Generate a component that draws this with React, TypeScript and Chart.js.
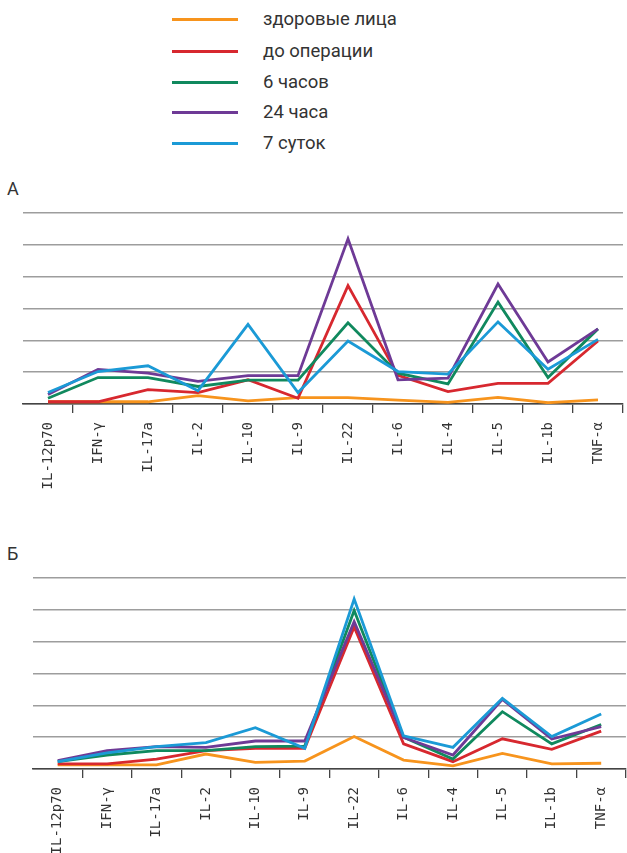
import React, { useEffect, useRef } from "react";
import { Chart, registerables } from "chart.js";

Chart.register(...registerables);

// Cytokines along the x axis
const CATEGORIES = ["IL-12p70", "IFN-γ", "IL-17a", "IL-2", "IL-10", "IL-9", "IL-22", "IL-6", "IL-4", "IL-5", "IL-1b", "TNF-α"];

// Groups / time points
const SERIES_NAMES = ["здоровые лица", "до операции", "6 часов", "24 часа", "7 суток"];
const SERIES_COLORS = ["#F7941D", "#D7282F", "#10895E", "#6E3A96", "#1B9AD6"];

// Panel А
const A_HEALTHY = [0.07, 0.07, 0.07, 0.26, 0.1, 0.2, 0.2, 0.12, 0.05, 0.21, 0.04, 0.13];
const A_PREOP = [0.07, 0.07, 0.45, 0.36, 0.76, 0.18, 3.72, 0.9, 0.39, 0.65, 0.65, 1.98];
const A_6H = [0.18, 0.83, 0.83, 0.55, 0.75, 0.75, 2.55, 0.97, 0.63, 3.2, 0.83, 2.36];
const A_24H = [0.3, 1.09, 0.97, 0.71, 0.89, 0.89, 5.19, 0.76, 0.81, 3.77, 1.32, 2.36];
const A_7D = [0.36, 1.02, 1.2, 0.42, 2.5, 0.36, 1.98, 1.02, 0.94, 2.58, 1.09, 2.03];

// Panel Б
const B_HEALTHY = [0.13, 0.13, 0.13, 0.47, 0.21, 0.25, 1.02, 0.28, 0.1, 0.49, 0.16, 0.18];
const B_PREOP = [0.16, 0.16, 0.31, 0.58, 0.65, 0.65, 4.46, 0.79, 0.23, 0.95, 0.62, 1.19];
const B_6H = [0.23, 0.44, 0.58, 0.58, 0.7, 0.72, 4.98, 1.0, 0.31, 1.8, 0.79, 1.4];
const B_24H = [0.26, 0.58, 0.7, 0.68, 0.88, 0.88, 4.63, 0.99, 0.44, 2.19, 0.94, 1.33];
const B_7D = [0.23, 0.51, 0.7, 0.83, 1.3, 0.65, 5.34, 1.04, 0.68, 2.22, 1.02, 1.73];

const Y_MAX = 6;

const TEXT = "#333333";
const UI_FONT = "Roboto, 'Noto Sans', sans-serif";

type PanelProps = {
  series: number[][];
  top: number;
  height: number;
  padLeft: number;
  padRight: number;
  axisHeight: number;
};

function Panel({ series, top, height, padLeft, padRight, axisHeight }: PanelProps) {
  const ref = useRef<HTMLCanvasElement | null>(null);

  useEffect(() => {
    if (!ref.current) return;
    const chart = new Chart(ref.current, {
      type: "line",
      data: {
        labels: CATEGORIES,
        datasets: series.map((values, i) => ({
          label: SERIES_NAMES[i],
          data: values,
          borderColor: SERIES_COLORS[i],
          backgroundColor: SERIES_COLORS[i],
          borderWidth: 2.8,
          pointRadius: 0,
          tension: 0,
          fill: false,
          order: series.length - 1 - i,
        })),
      },
      options: {
        animation: false,
        responsive: false,
        devicePixelRatio: 1,
        layout: { padding: { left: padLeft, right: padRight, top: 8, bottom: 0 } },
        plugins: { legend: { display: false }, tooltip: { enabled: false } },
        scales: {
          x: {
            type: "category",
            offset: true,
            grid: {
              offset: true,
              drawOnChartArea: false,
              drawTicks: true,
              tickLength: 9,
              lineWidth: 1.3,
              color: (ctx: any) => (ctx.index === 0 ? "rgba(0,0,0,0)" : "#444444"),
            },
            border: { display: true, color: "#444444", width: 1.6 },
            ticks: {
              autoSkip: false,
              minRotation: 90,
              maxRotation: 90,
              padding: 9,
              color: TEXT,
              font: { family: "'DejaVu Sans Mono', 'Liberation Mono', monospace", size: 14 },
            },
            afterFit: (axis: any) => {
              axis.height = axisHeight;
            },
          },
          y: {
            min: 0,
            max: Y_MAX,
            ticks: { display: false, stepSize: 1 },
            grid: { color: "#9d9d9d", lineWidth: 1.6, drawTicks: false },
            border: { display: false },
            afterFit: (axis: any) => {
              axis.width = 0;
            },
          },
        },
      },
    });
    return () => chart.destroy();
  }, []);

  return (
    <canvas
      ref={ref}
      width={627}
      height={height}
      style={{ position: "absolute", left: 0, top, width: 627, height }}
    />
  );
}

const LEGEND_ROWS = [19, 51, 82, 112, 143];

export default function App() {
  return (
    <div style={{ position: "absolute", left: 0, top: 0, width: 627, height: 853, overflow: "hidden", background: "#fff" }}>
      {SERIES_NAMES.map((name, i) => (
        <div key={name}>
          <div
            style={{
              position: "absolute",
              left: 172,
              top: LEGEND_ROWS[i] - 1.5,
              width: 66,
              height: 3,
              background: SERIES_COLORS[i],
            }}
          />
          <div
            style={{
              position: "absolute",
              left: 263,
              top: LEGEND_ROWS[i] - 12,
              height: 24,
              lineHeight: "24px",
              fontFamily: UI_FONT,
              fontSize: 18.5,
              color: TEXT,
              whiteSpace: "nowrap",
            }}
          >
            {name}
          </div>
        </div>
      ))}

      <div style={{ position: "absolute", left: 7, top: 178, fontFamily: UI_FONT, fontSize: 18, color: TEXT }}>А</div>
      <Panel
        series={[A_HEALTHY, A_PREOP, A_6H, A_24H, A_7D]}
        top={205}
        height={300}
        padLeft={23}
        padRight={4}
        axisHeight={101}
      />

      <div style={{ position: "absolute", left: 7, top: 543, fontFamily: UI_FONT, fontSize: 18, color: TEXT }}>Б</div>
      <Panel
        series={[B_HEALTHY, B_PREOP, B_6H, B_24H, B_7D]}
        top={570}
        height={283}
        padLeft={33}
        padRight={0}
        axisHeight={84}
      />
    </div>
  );
}
